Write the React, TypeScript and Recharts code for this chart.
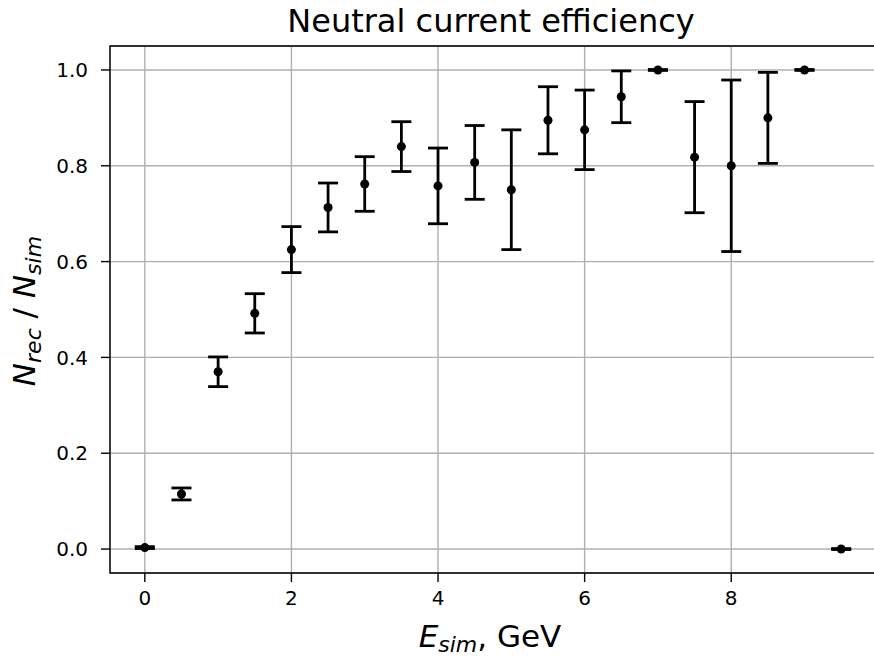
import React from 'react'
import {
  ScatterChart,
  Scatter,
  XAxis,
  YAxis,
  CartesianGrid,
  ErrorBar,
  ReferenceArea,
} from 'recharts'

// simulated energy bins, GeV
const energies = [0, 0.5, 1, 1.5, 2, 2.5, 3, 3.5, 4, 4.5, 5, 5.5, 6, 6.5, 7, 7.5, 8, 8.5, 9, 9.5]
// N_rec / N_sim
const efficiency = [0.003, 0.115, 0.37, 0.492, 0.625, 0.713, 0.762, 0.84, 0.758, 0.807, 0.75, 0.895, 0.875, 0.944, 1.0, 0.818, 0.8, 0.9, 1.0, 0.0]
// bins at 7, 9 and 9.5 GeV only show a flat cap
const errors = [0.002, 0.0125, 0.031, 0.041, 0.048, 0.051, 0.057, 0.052, 0.079, 0.077, 0.125, 0.07, 0.083, 0.054, 0.001, 0.116, 0.179, 0.095, 0.001, 0.001]

const xTicks = [0, 2, 4, 6, 8]
const yTicks = [0, 0.2, 0.4, 0.6, 0.8, 1.0]
const xDomain = [-0.475, 9.975]
const yDomain = [-0.05, 1.05]

const data = energies.map((e, i) => ({ e, eff: efficiency[i], err: errors[i] }))

const FONT = '"DejaVu Sans", sans-serif'

export default function App() {
  return (
    <div style={{ position: 'absolute', left: 0, top: 0, width: 874, height: 658, overflow: 'hidden', background: '#fff' }}>
      <ScatterChart
        width={880}
        height={658}
        margin={{ top: 46, right: 4, left: 50, bottom: 55 }}
        style={{ fontFamily: FONT }}
      >
        <CartesianGrid stroke="#b0b0b0" strokeWidth={1.4} />
        <XAxis
          type="number"
          dataKey="e"
          domain={xDomain}
          allowDataOverflow
          ticks={xTicks}
          interval={0}
          height={30}
          stroke="#000"
          axisLine={false}
          tickLine={{ stroke: '#000', strokeWidth: 1.4 }}
          tickSize={9}
          tickMargin={9}
          tick={{ fill: '#000', fontSize: 20, fontFamily: FONT }}
        />
        <YAxis
          type="number"
          dataKey="eff"
          domain={yDomain}
          allowDataOverflow
          ticks={yTicks}
          interval={0}
          width={60}
          stroke="#000"
          axisLine={false}
          tickLine={{ stroke: '#000', strokeWidth: 1.4 }}
          tickSize={9}
          tickMargin={13}
          tickFormatter={(v: number) => v.toFixed(1)}
          tick={{ fill: '#000', fontSize: 20, fontFamily: FONT }}
        />
        <ReferenceArea
          x1={xDomain[0]}
          x2={xDomain[1]}
          y1={yDomain[0]}
          y2={yDomain[1]}
          fill="none"
          fillOpacity={0}
          stroke="#000"
          strokeWidth={1.4}
          ifOverflow="visible"
        />
        <Scatter data={data} fill="#000" isAnimationActive={false}>
          <ErrorBar dataKey="err" direction="y" width={10} stroke="#000" strokeWidth={2.8} isAnimationActive={false} />
        </Scatter>

        <text x={491} y={32} textAnchor="middle" fontSize={32} fontFamily={FONT} fill="#000">
          Neutral current efficiency
        </text>
        <text x={490} y={647} textAnchor="middle" fontSize={31} fontFamily={FONT} fill="#000">
          <tspan fontStyle="italic">E</tspan>
          <tspan fontStyle="italic" fontSize={22} dy={5}>sim</tspan>
          <tspan dy={-5}>, GeV</tspan>
        </text>
        <text
          x={35}
          y={311}
          textAnchor="middle"
          fontSize={31}
          fontFamily={FONT}
          fill="#000"
          transform="rotate(-90, 35, 311)"
        >
          <tspan fontStyle="italic">N</tspan>
          <tspan fontStyle="italic" fontSize={22} dy={6}>rec</tspan>
          <tspan dy={-6}> / </tspan>
          <tspan fontStyle="italic">N</tspan>
          <tspan fontStyle="italic" fontSize={22} dy={6}>sim</tspan>
        </text>
      </ScatterChart>
    </div>
  )
}
